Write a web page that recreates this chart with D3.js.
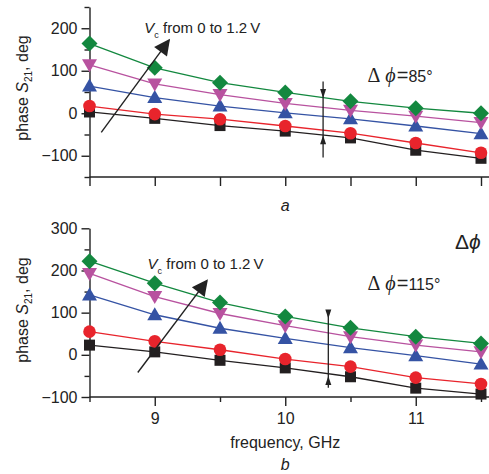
<!DOCTYPE html>
<html>
<head>
<meta charset="utf-8">
<script src="https://cdn.jsdelivr.net/npm/d3@7"></script>
<style>
  body { margin: 0; background: #fff; }
  text { font-family: "Liberation Sans", Arial, sans-serif; fill: #222; }
</style>
</head>
<body>
<div id="chart"></div>
<script>
// frequency points, GHz
const freq = [8.5, 9, 9.5, 10, 10.5, 11, 11.5];

// panel a: phase S21 (deg), Vc from 0 to 1.2 V
const a0 = [3, -12, -29, -42, -58, -87, -106];
const a1 = [17, -2, -14, -30, -47, -70, -93];
const a2 = [64, 37, 17, 1, -13, -30, -48];
const a3 = [114, 69, 44, 23, 7, -7, -22];
const a4 = [164, 107, 72, 49, 28, 12, 0];

// panel b
const b0 = [23, 7, -13, -31, -52, -79, -93];
const b1 = [55, 32, 12, -10, -28, -54, -69];
const b2 = [142, 95, 63, 39, 17, -2, -22];
const b3 = [193, 138, 98, 69, 43, 23, 7];
const b4 = [222, 170, 124, 91, 64, 43, 27];

const seriesColors = ["#231f20", "#e8242c", "#3553a4", "#b8529f", "#13883f"];
const seriesShapes = ["square", "circle", "up", "down", "diamond"];

const W = 489, H = 474;
const svg = d3.select("#chart").append("svg")
    .attr("width", W)
    .attr("height", H);

// shared x scale
const x = d3.scaleLinear().domain([8.5, 11.5]).range([89.5, 481]);

function marker(g, shape, color, cx, cy) {
    if (shape === "square") {
        g.append("rect").attr("x", cx - 5.5).attr("y", cy - 5.5)
            .attr("width", 11).attr("height", 11).attr("fill", color);
    } else if (shape === "circle") {
        g.append("circle").attr("cx", cx).attr("cy", cy).attr("r", 6.3).attr("fill", color);
    } else if (shape === "up") {
        g.append("path").attr("d", `M${cx},${cy - 7.5}L${cx + 7.5},${cy + 5.5}L${cx - 7.5},${cy + 5.5}Z`)
            .attr("fill", color);
    } else if (shape === "down") {
        g.append("path").attr("d", `M${cx},${cy + 7.5}L${cx + 7.5},${cy - 5.5}L${cx - 7.5},${cy - 5.5}Z`)
            .attr("fill", color);
    } else {
        g.append("path").attr("d", `M${cx},${cy - 8}L${cx + 8},${cy}L${cx},${cy + 8}L${cx - 8},${cy}Z`)
            .attr("fill", color);
    }
}

const serif = "Liberation Serif, Times New Roman, serif";

function drawPanel(opt) {
    const y = d3.scaleLinear().domain(opt.yDomain).range(opt.yRange);
    const g = svg.append("g");
    const yBottom = opt.yRange[0];

    // y axis: major + minor ticks
    const yMinor = g.append("g")
        .attr("transform", `translate(${x(8.5)},0)`)
        .call(d3.axisLeft(y).tickValues(opt.yMinor).tickSize(5).tickFormat(""));
    yMinor.select(".domain").remove();
    const yAx = g.append("g")
        .attr("transform", `translate(${x(8.5)},0)`)
        .call(d3.axisLeft(y).tickValues(opt.yMajor).tickSize(8).tickSizeOuter(0)
            .tickPadding(4).tickFormat(d => d < 0 ? "\u2212" + Math.abs(d) : d));
    yAx.selectAll("text").attr("font-size", 16).attr("font-family", "Liberation Sans, Arial, sans-serif").attr("fill", "#222");

    // x axis
    if (opt.xLabels) {
        const xMinor = g.append("g")
            .attr("transform", `translate(0,${yBottom})`)
            .call(d3.axisBottom(x).tickValues([8.5, 9.5, 10.5, 11.5]).tickSize(5).tickFormat(""));
        xMinor.select(".domain").remove();
        const xAx = g.append("g")
            .attr("transform", `translate(0,${yBottom})`)
            .call(d3.axisBottom(x).tickValues([9, 10, 11]).tickSize(9).tickSizeOuter(0)
                .tickPadding(7).tickFormat(d3.format("d")));
        xAx.select(".domain").attr("d", `M${x(8.5)},0H${W + 5}`);
        xAx.selectAll("text").attr("font-size", 16).attr("font-family", "Liberation Sans, Arial, sans-serif").attr("fill", "#222");
    } else {
        const xAx = g.append("g")
            .attr("transform", `translate(0,${yBottom})`)
            .call(d3.axisBottom(x).tickValues(freq).tickSize(9).tickSizeOuter(0).tickFormat(""));
        xAx.select(".domain").attr("d", `M${x(8.5)},0H${W + 5}`);
    }
    g.selectAll(".domain, .tick line").attr("stroke", "#222").attr("stroke-width", 1.4);

    // y label
    const yl = g.append("text")
        .attr("transform", `translate(28,${opt.yLabelMid}) rotate(-90)`)
        .attr("text-anchor", "middle")
        .attr("font-size", 16);
    yl.append("tspan").text("phase ");
    yl.append("tspan").attr("font-style", "italic").text("S");
    yl.append("tspan").attr("font-size", 10).attr("dy", 4).text("21");
    yl.append("tspan").attr("dy", -4).text(", deg");

    // data
    const line = d3.line().x((d, i) => x(freq[i])).y(d => y(d));
    opt.series.forEach((s, k) => {
        g.append("path").datum(s)
            .attr("d", line)
            .attr("fill", "none")
            .attr("stroke", seriesColors[k])
            .attr("stroke-width", 1.3);
    });
    opt.series.forEach((s, k) => {
        s.forEach((v, i) => marker(g, seriesShapes[k], seriesColors[k], x(freq[i]), y(v)));
    });

    // Vc arrow
    g.append("line")
        .attr("x1", x(opt.arrow[0])).attr("y1", y(opt.arrow[1]))
        .attr("x2", x(opt.arrow[2])).attr("y2", y(opt.arrow[3]))
        .attr("stroke", "#222").attr("stroke-width", 1.4)
        .attr("marker-end", "url(#bigHead)");

    const vt = g.append("text")
        .attr("x", x(opt.vcText[0])).attr("y", y(opt.vcText[1]))
        .attr("font-size", 15);
    vt.append("tspan").attr("font-style", "italic").text("V");
    vt.append("tspan").attr("font-size", 9).attr("dy", 5).text("c");
    vt.append("tspan").attr("dy", -5).text(" from 0 to 1.2\u2009V");

    // delta phi span arrow
    const xs = x(opt.span[0]);
    g.append("line")
        .attr("x1", xs).attr("x2", xs)
        .attr("y1", y(opt.span[1])).attr("y2", y(opt.span[2]))
        .attr("stroke", "#222").attr("stroke-width", 1.3);
    const hTop = y(opt.span[3]), hBot = y(opt.span[4]);
    g.append("path").attr("d", `M${xs - 3},${hTop - 9}L${xs + 3},${hTop - 9}L${xs},${hTop}Z`).attr("fill", "#222");
    g.append("path").attr("d", `M${xs - 3},${hBot + 9}L${xs + 3},${hBot + 9}L${xs},${hBot}Z`).attr("fill", "#222");

    const dt = g.append("text")
        .attr("x", x(opt.dText[0])).attr("y", y(opt.dText[1]))
        .attr("font-size", 16);
    dt.append("tspan").attr("font-family", serif).attr("font-size", 20).text("\u0394");
    dt.append("tspan").attr("font-family", serif).attr("font-style", "italic")
        .attr("font-size", 20).attr("dx", 5).text("\u03d5");
    dt.append("tspan").attr("font-size", 20).attr("dx", 1).text("=");
    dt.append("tspan").text(opt.dValue + "\u00b0");

    // panel letter
    g.append("text")
        .attr("x", x(10)).attr("y", opt.letterY)
        .attr("text-anchor", "middle")
        .attr("font-size", 16).attr("font-style", "italic")
        .text(opt.letter);

    return { g, y };
}

// arrow head definition
svg.append("defs").append("marker")
    .attr("id", "bigHead")
    .attr("viewBox", "0 0 10 10")
    .attr("refX", 9).attr("refY", 5)
    .attr("markerWidth", 22).attr("markerHeight", 16)
    .attr("markerUnits", "userSpaceOnUse")
    .attr("orient", "auto")
    .append("path").attr("d", "M0,0L10,5L0,10Z").attr("fill", "#222");

drawPanel({
    yDomain: [-150, 250], yRange: [177, 7],
    yMajor: [-100, 0, 100, 200], yMinor: [-150, -50, 50, 150, 250],
    xLabels: false, yLabelMid: 88,
    series: [a0, a1, a2, a3, a4],
    arrow: [8.59, -45, 9.11, 172],
    vcText: [8.92, 188],
    span: [10.29, 75, -104, 36, -52],
    dText: [10.63, 73],
    dValue: 85,
    letter: "a", letterY: 211
});

const pb = drawPanel({
    yDomain: [-100, 300], yRange: [397, 228.3],
    yMajor: [-100, 0, 100, 200, 300], yMinor: [-50, 50, 150, 250],
    xLabels: true, yLabelMid: 310,
    series: [b0, b1, b2, b3, b4],
    arrow: [8.87, -42, 9.4, 176],
    vcText: [8.945, 204],
    span: [10.33, 106, -78, 86, -50],
    dText: [10.63, 153],
    dValue: 115,
    letter: "b", letterY: 470
});

// stray label at top right of panel b
const st = pb.g.append("text")
    .attr("x", x(11.3)).attr("y", pb.y(251))
    .attr("font-family", serif)
    .attr("font-size", 21);
st.append("tspan").text("\u0394");
st.append("tspan").attr("font-style", "italic").text("\u03d5");

// x axis title
svg.append("text")
    .attr("x", x(10)).attr("y", 448)
    .attr("text-anchor", "middle")
    .attr("font-size", 16)
    .text("frequency, GHz");
</script>
</body>
</html>
